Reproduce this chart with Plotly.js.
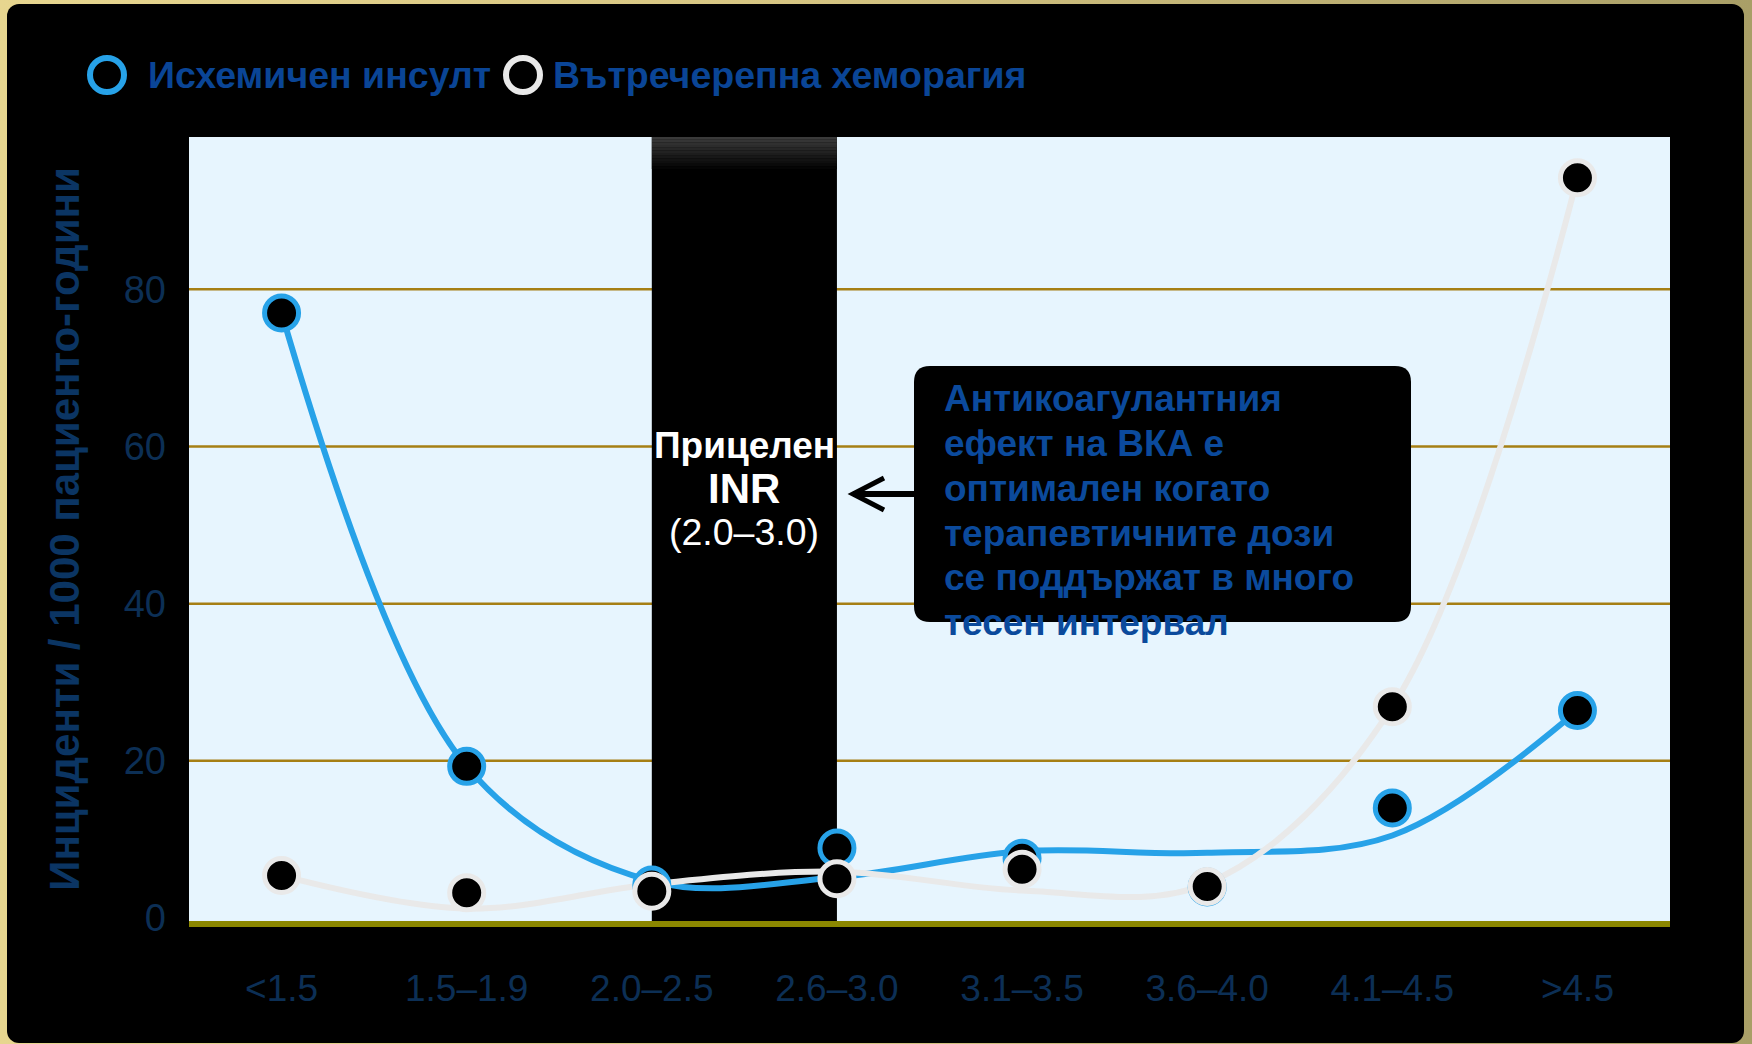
<!DOCTYPE html>
<html>
<head>
<meta charset="utf-8">
<script src="https://cdn.plot.ly/plotly-3.0.1.min.js"></script>
<style>
  html, body { margin: 0; padding: 0; width: 1752px; height: 1044px; overflow: hidden;
    background: linear-gradient(90deg, #e7d68f 0%, #d6c582 45%, #a99f67 100%); }
  #panel { position: absolute; left: 7px; top: 4px; width: 1737px; height: 1039px;
    background: #000; border-radius: 12px; }
  #chart { position: absolute; left: 0; top: 0; width: 1752px; height: 1044px; }
</style>
</head>
<body>
<div id="panel"></div>
<div id="chart"></div>
<script>
// INR ranges on the x axis
const categories = ['<1.5', '1.5–1.9', '2.0–2.5', '2.6–3.0', '3.1–3.5', '3.6–4.0', '4.1–4.5', '>4.5'];

// Events per 1000 patient-years (points)
const strokeRate = [77.0, 19.3, 4.2, 8.9, 7.6, 3.95, 14.0, 26.4];
const bleedRate  = [5.4, 3.2, 3.4, 5.0, 6.2, 4.0, 26.9, 94.2];

// Smoothed trend curves drawn through each category
const strokeTrend = [77.0, 19.3, 4.7, 5.2, 8.5, 8.3, 10.5, 26.4];
const bleedTrend  = [5.4, 1.2, 4.3, 5.9, 3.5, 4.4, 26.9, 94.2];

const yTicks = [0, 20, 40, 60, 80];
const seriesNames = ['Исхемичен инсулт', 'Вътречерепна хеморагия'];
const targetLabel = ['Прицелен', 'INR', '(2.0–3.0)'];
const targetRange = [2, 3]; // category indices bounding the target INR band
const noteLines = ['Антикоагулантния', 'ефект на ВКА е', 'оптимален когато',
                   'терапевтичните дози', 'се поддържат в много', 'тесен интервал'];

const FONT = 'Liberation Sans, Arial, Helvetica, sans-serif';
const BLUE = '#27a2e8';
const GREY = '#e9e9e9';

// plot frame in page pixels
const L = 189, R = 1670, T = 137, B = 921;
const W = R - L, H = B - T;
const px = x => (x - L) / W;
const py = y => (B - y) / H;

const traces = [
  { x: categories, y: strokeTrend, type: 'scatter', mode: 'lines', showlegend: false,
    line: { color: BLUE, width: 6, shape: 'spline', smoothing: 1 }, hoverinfo: 'skip' },
  { x: categories, y: bleedTrend, type: 'scatter', mode: 'lines', showlegend: false,
    line: { color: GREY, width: 6, shape: 'spline', smoothing: 1 }, hoverinfo: 'skip' },
  { x: categories, y: strokeRate, type: 'scatter', mode: 'markers', name: seriesNames[0],
    marker: { size: 34, color: '#000', line: { color: BLUE, width: 5 } } },
  { x: categories, y: bleedRate, type: 'scatter', mode: 'markers', name: seriesNames[1],
    marker: { size: 34, color: '#000', line: { color: GREY, width: 5 } } }
];

const shapes = [];
// horizontal gridlines (the baseline is the x axis line itself)
yTicks.filter(v => v > 0).forEach(v => {
  shapes.push({ type: 'line', layer: 'below', xref: 'paper', yref: 'y',
    x0: 0, x1: 1, y0: v, y1: v, line: { color: '#a67f14', width: 2.5 } });
});
// target INR band
shapes.push({ type: 'rect', layer: 'between', xref: 'x', yref: 'paper',
  x0: targetRange[0], x1: targetRange[1], y0: 0, y1: 1,
  fillcolor: '#000', line: { width: 0 } });
// soft highlight at the top of the band
const steps = 12, depth = 32;
for (let i = 0; i < steps; i++) {
  const g = Math.round(58 * (1 - i / steps));
  shapes.push({ type: 'rect', layer: 'between', xref: 'x', yref: 'paper',
    x0: targetRange[0], x1: targetRange[1],
    y1: 1 - (i * depth / steps) / H, y0: 1 - ((i + 1) * depth / steps) / H,
    fillcolor: `rgb(${g},${g},${g})`, line: { width: 0 } });
}
// callout box
const bx0 = 914, bx1 = 1411, by0 = 366, by1 = 622, r = 16;
shapes.push({ type: 'path', layer: 'above', xref: 'paper', yref: 'paper',
  fillcolor: '#000', line: { width: 0 },
  path: `M ${px(bx0 + r)},${py(by0)} L ${px(bx1 - r)},${py(by0)} Q ${px(bx1)},${py(by0)} ${px(bx1)},${py(by0 + r)} ` +
        `L ${px(bx1)},${py(by1 - r)} Q ${px(bx1)},${py(by1)} ${px(bx1 - r)},${py(by1)} ` +
        `L ${px(bx0 + r)},${py(by1)} Q ${px(bx0)},${py(by1)} ${px(bx0)},${py(by1 - r)} ` +
        `L ${px(bx0)},${py(by0 + r)} Q ${px(bx0)},${py(by0)} ${px(bx0 + r)},${py(by0)} Z` });
// arrow from the callout to the band
const ay = 494;
shapes.push({ type: 'path', layer: 'above', xref: 'paper', yref: 'paper',
  line: { color: '#000', width: 6 }, path: `M ${px(914)},${py(ay)} L ${px(858)},${py(ay)}` });
shapes.push({ type: 'path', layer: 'above', xref: 'paper', yref: 'paper',
  line: { color: '#000', width: 5 },
  path: `M ${px(884)},${py(ay - 16)} L ${px(853)},${py(ay)} L ${px(884)},${py(ay + 16)}` });
// legend rings
const legendItems = [
  { ring: 107, text: 146, color: BLUE },
  { ring: 523, text: 551, color: GREY }
];
const legendY = 75;
legendItems.forEach(it => {
  shapes.push({ type: 'circle', layer: 'above', xref: 'paper', yref: 'paper',
    xsizemode: 'pixel', ysizemode: 'pixel', xanchor: px(it.ring), yanchor: py(legendY),
    x0: -17, x1: 17, y0: -17, y1: 17, fillcolor: 'rgba(0,0,0,0)',
    line: { color: it.color, width: 6 } });
});

const annotations = [];
legendItems.forEach((it, i) => {
  annotations.push({ xref: 'paper', yref: 'paper', x: px(it.text), y: py(legendY),
    xanchor: 'left', yanchor: 'middle', showarrow: false, text: seriesNames[i],
    font: { family: FONT, size: 37.5, weight: 700, color: '#0a4596' } });
});
// band label
const bandY = [445, 488, 532];
const bandFont = [
  { family: FONT, size: 37, weight: 700, color: '#ffffff' },
  { family: FONT, size: 42, weight: 700, color: '#ffffff' },
  { family: FONT, size: 37.5, weight: 400, color: '#ffffff' }
];
targetLabel.forEach((t, i) => {
  annotations.push({ xref: 'x', yref: 'paper', x: (targetRange[0] + targetRange[1]) / 2, y: py(bandY[i]),
    xanchor: 'center', yanchor: 'middle', showarrow: false, text: t, font: bandFont[i] });
});
// callout text
noteLines.forEach((t, i) => {
  annotations.push({ xref: 'paper', yref: 'paper', x: px(942), y: py(399 + i * 44.7),
    xanchor: 'left', yanchor: 'middle', showarrow: false, text: t,
    font: { family: FONT, size: 37, weight: 700, color: '#0b4a9c' } });
});

const layout = {
  width: 1752, height: 1044,
  margin: { l: L, r: 1752 - R, t: T, b: 1044 - B, pad: 0 },
  paper_bgcolor: 'rgba(0,0,0,0)',
  plot_bgcolor: '#e7f5fe',
  showlegend: false,
  xaxis: {
    type: 'category', categoryorder: 'array', categoryarray: categories,
    range: [-0.5, categories.length - 0.5],
    showgrid: false, zeroline: false, ticks: '',
    showline: true, linecolor: '#8b8700', linewidth: 6,
    ticklabelstandoff: 30,
    tickfont: { family: FONT, size: 37, color: '#0c2f55' }
  },
  yaxis: {
    range: [-0.38, 99.39], tickvals: yTicks, ticks: '',
    showgrid: false, zeroline: false, showline: false,
    ticklabelstandoff: 22,
    tickfont: { family: FONT, size: 38, color: '#0c2f55' },
    title: { text: 'Инциденти / 1000 пациенто-години', standoff: 31,
             font: { family: FONT, size: 42, weight: 700, color: '#0b3563' } }
  },
  shapes: shapes,
  annotations: annotations
};

Plotly.newPlot('chart', traces, layout, { staticPlot: true, displayModeBar: false });
</script>
</body>
</html>
